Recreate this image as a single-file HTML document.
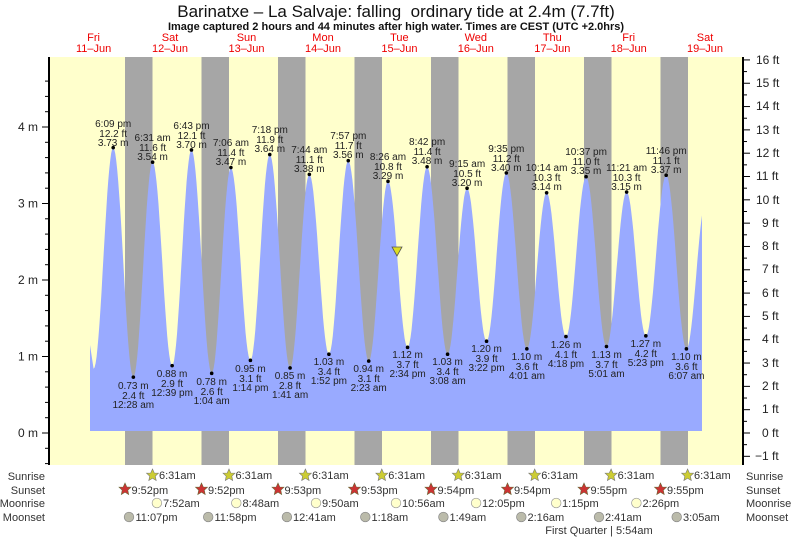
<!DOCTYPE html>
<html><head><meta charset="utf-8"><style>
html,body{margin:0;padding:0;background:#fff;}
svg{display:block;font-family:"Liberation Sans",sans-serif;}
.lb{font-size:10px;fill:#222;text-anchor:middle;}
.ax{font-size:12px;fill:#222;}
.rw{font-size:11px;fill:#333;}
.dy{font-size:11px;fill:#e00;text-anchor:middle;}
</style></head><body>
<svg id="s" width="793" height="539" viewBox="0 0 793 539" xmlns="http://www.w3.org/2000/svg">
<rect x="49" y="57" width="695" height="408" fill="#ffffcc"/>
<g fill="#a6a6a6">
<rect x="125" y="57" width="27.5" height="408"/><rect x="201.5" y="57" width="27.5" height="408"/>
<rect x="278" y="57" width="27.5" height="408"/><rect x="354.5" y="57" width="27.5" height="408"/>
<rect x="431" y="57" width="27.5" height="408"/><rect x="507.5" y="57" width="27.5" height="408"/>
<rect x="584" y="57" width="27.5" height="408"/><rect x="660.5" y="57" width="27.5" height="408"/>
</g>
<path id="tide" fill="#99aaff" d=""/>
<g id="dots" fill="#000"></g>
<polygon points="392,247 402,247 397,256" fill="#dddd22" stroke="#555" stroke-width="0.8"/>
<text x="396" y="17" style="font-size:17px;fill:#111;text-anchor:middle">Barinatxe – La Salvaje: falling&#160; ordinary tide at 2.4m (7.7ft)</text>
<text x="396" y="30" style="font-size:11px;font-weight:bold;fill:#111;text-anchor:middle">Image captured 2 hours and 44 minutes after high water. Times are CEST (UTC +2.0hrs)</text>
<g class="dy">
<text x="93.6" y="41">Fri</text><text x="93.6" y="52">11–Jun</text>
<text x="170" y="41">Sat</text><text x="170" y="52">12–Jun</text>
<text x="246.5" y="41">Sun</text><text x="246.5" y="52">13–Jun</text>
<text x="323" y="41">Mon</text><text x="323" y="52">14–Jun</text>
<text x="399.4" y="41">Tue</text><text x="399.4" y="52">15–Jun</text>
<text x="475.8" y="41">Wed</text><text x="475.8" y="52">16–Jun</text>
<text x="552.3" y="41">Thu</text><text x="552.3" y="52">17–Jun</text>
<text x="628.7" y="41">Fri</text><text x="628.7" y="52">18–Jun</text>
<text x="705" y="41">Sat</text><text x="705" y="52">19–Jun</text>
</g>
<line x1="49" y1="57" x2="49" y2="465" stroke="#000" stroke-width="2"/>
<line x1="743" y1="57" x2="743" y2="465" stroke="#000" stroke-width="2"/>
<g id="ticks" stroke="#000" stroke-width="1"></g>
<g class="ax" text-anchor="end">
<text x="38" y="131">4 m</text><text x="38" y="207.5">3 m</text><text x="38" y="284">2 m</text><text x="38" y="360.5">1 m</text><text x="38" y="437">0 m</text>
</g>
<g class="lb">
<text x="113.2" y="127">6:09 pm</text><text x="113.2" y="137">12.2 ft</text><text x="113.2" y="146">3.73 m</text>
<text x="152.6" y="141">6:31 am</text><text x="152.6" y="151">11.6 ft</text><text x="152.6" y="160">3.54 m</text>
<text x="191.5" y="129">6:43 pm</text><text x="191.5" y="139">12.1 ft</text><text x="191.5" y="148">3.70 m</text>
<text x="230.9" y="146">7:06 am</text><text x="230.9" y="156">11.4 ft</text><text x="230.9" y="165">3.47 m</text>
<text x="269.8" y="133">7:18 pm</text><text x="269.8" y="143">11.9 ft</text><text x="269.8" y="152">3.64 m</text>
<text x="309.3" y="153">7:44 am</text><text x="309.3" y="163">11.1 ft</text><text x="309.3" y="172">3.38 m</text>
<text x="348.3" y="139">7:57 pm</text><text x="348.3" y="149">11.7 ft</text><text x="348.3" y="158">3.56 m</text>
<text x="388" y="160">8:26 am</text><text x="388" y="170">10.8 ft</text><text x="388" y="179">3.29 m</text>
<text x="427.1" y="145">8:42 pm</text><text x="427.1" y="155">11.4 ft</text><text x="427.1" y="164">3.48 m</text>
<text x="467.1" y="167">9:15 am</text><text x="467.1" y="177">10.5 ft</text><text x="467.1" y="186">3.20 m</text>
<text x="506.3" y="152">9:35 pm</text><text x="506.3" y="162">11.2 ft</text><text x="506.3" y="171">3.40 m</text>
<text x="546.6" y="171">10:14 am</text><text x="546.6" y="181">10.3 ft</text><text x="546.6" y="190">3.14 m</text>
<text x="586.1" y="155">10:37 pm</text><text x="586.1" y="165">11.0 ft</text><text x="586.1" y="174">3.35 m</text>
<text x="626.6" y="171">11:21 am</text><text x="626.6" y="181">10.3 ft</text><text x="626.6" y="190">3.15 m</text>
<text x="666.2" y="154">11:46 pm</text><text x="666.2" y="164">11.1 ft</text><text x="666.2" y="173">3.37 m</text>

<text x="133.3" y="389">0.73 m</text><text x="133.3" y="399">2.4 ft</text><text x="133.3" y="408">12:28 am</text>
<text x="172.1" y="377">0.88 m</text><text x="172.1" y="387">2.9 ft</text><text x="172.1" y="396">12:39 pm</text>
<text x="211.7" y="385">0.78 m</text><text x="211.7" y="395">2.6 ft</text><text x="211.7" y="404">1:04 am</text>
<text x="250.4" y="372">0.95 m</text><text x="250.4" y="382">3.1 ft</text><text x="250.4" y="391">1:14 pm</text>
<text x="290.1" y="379">0.85 m</text><text x="290.1" y="389">2.8 ft</text><text x="290.1" y="398">1:41 am</text>
<text x="328.9" y="365">1.03 m</text><text x="328.9" y="375">3.4 ft</text><text x="328.9" y="384">1:52 pm</text>
<text x="368.7" y="372">0.94 m</text><text x="368.7" y="382">3.1 ft</text><text x="368.7" y="391">2:23 am</text>
<text x="407.6" y="358">1.12 m</text><text x="407.6" y="368">3.7 ft</text><text x="407.6" y="377">2:34 pm</text>
<text x="447.6" y="365">1.03 m</text><text x="447.6" y="375">3.4 ft</text><text x="447.6" y="384">3:08 am</text>
<text x="486.6" y="352">1.20 m</text><text x="486.6" y="362">3.9 ft</text><text x="486.6" y="371">3:22 pm</text>
<text x="526.9" y="360">1.10 m</text><text x="526.9" y="370">3.6 ft</text><text x="526.9" y="379">4:01 am</text>
<text x="566" y="348">1.26 m</text><text x="566" y="358">4.1 ft</text><text x="566" y="367">4:18 pm</text>
<text x="606.5" y="358">1.13 m</text><text x="606.5" y="368">3.7 ft</text><text x="606.5" y="377">5:01 am</text>
<text x="645.8" y="347">1.27 m</text><text x="645.8" y="357">4.2 ft</text><text x="645.8" y="366">5:23 pm</text>
<text x="686.4" y="360">1.10 m</text><text x="686.4" y="370">3.6 ft</text><text x="686.4" y="379">6:07 am</text>
</g>
<g class="rw" text-anchor="end">
<text x="45" y="480">Sunrise</text><text x="45" y="494">Sunset</text><text x="45" y="507">Moonrise</text><text x="45" y="521">Moonset</text>
</g>
<g class="rw">
<text x="746" y="480">Sunrise</text><text x="746" y="494">Sunset</text><text x="746" y="507">Moonrise</text><text x="746" y="521">Moonset</text>
</g>
<text x="599" y="534" style="font-size:11px;fill:#333;text-anchor:middle">First Quarter | 5:54am</text>
<g style="font-size:12px;fill:#222">
<text x="756" y="64">16 ft</text><text x="756" y="87">15 ft</text><text x="756" y="110">14 ft</text><text x="756" y="134">13 ft</text><text x="756" y="157">12 ft</text><text x="756" y="180">11 ft</text><text x="756" y="204">10 ft</text><text x="762" y="227">9 ft</text><text x="762" y="250">8 ft</text><text x="762" y="273">7 ft</text><text x="762" y="297">6 ft</text><text x="762" y="320">5 ft</text><text x="762" y="343">4 ft</text><text x="762" y="367">3 ft</text><text x="762" y="390">2 ft</text><text x="762" y="413">1 ft</text><text x="762" y="437">0 ft</text><text x="755" y="460">−1 ft</text>
</g>
<g style="font-size:11px;fill:#333">
<g fill="#cccc33" stroke="#777" stroke-width="0.6">
<polygon transform="translate(152.5,475)" points="0,-6 1.8,-2 6,-1.8 2.8,1.2 3.7,5.5 0,3.3 -3.7,5.5 -2.8,1.2 -6,-1.8 -1.8,-2"/>
<polygon transform="translate(229,475)" points="0,-6 1.8,-2 6,-1.8 2.8,1.2 3.7,5.5 0,3.3 -3.7,5.5 -2.8,1.2 -6,-1.8 -1.8,-2"/>
<polygon transform="translate(305.4,475)" points="0,-6 1.8,-2 6,-1.8 2.8,1.2 3.7,5.5 0,3.3 -3.7,5.5 -2.8,1.2 -6,-1.8 -1.8,-2"/>
<polygon transform="translate(381.8,475)" points="0,-6 1.8,-2 6,-1.8 2.8,1.2 3.7,5.5 0,3.3 -3.7,5.5 -2.8,1.2 -6,-1.8 -1.8,-2"/>
<polygon transform="translate(458.3,475)" points="0,-6 1.8,-2 6,-1.8 2.8,1.2 3.7,5.5 0,3.3 -3.7,5.5 -2.8,1.2 -6,-1.8 -1.8,-2"/>
<polygon transform="translate(534.7,475)" points="0,-6 1.8,-2 6,-1.8 2.8,1.2 3.7,5.5 0,3.3 -3.7,5.5 -2.8,1.2 -6,-1.8 -1.8,-2"/>
<polygon transform="translate(611.1,475)" points="0,-6 1.8,-2 6,-1.8 2.8,1.2 3.7,5.5 0,3.3 -3.7,5.5 -2.8,1.2 -6,-1.8 -1.8,-2"/>
<polygon transform="translate(687.6,475)" points="0,-6 1.8,-2 6,-1.8 2.8,1.2 3.7,5.5 0,3.3 -3.7,5.5 -2.8,1.2 -6,-1.8 -1.8,-2"/>
</g>
<text x="159" y="479">6:31am</text><text x="235.5" y="479">6:31am</text><text x="312" y="479">6:31am</text><text x="388.3" y="479">6:31am</text><text x="464.8" y="479">6:31am</text><text x="541.2" y="479">6:31am</text><text x="617.6" y="479">6:31am</text><text x="694" y="479">6:31am</text>
<g fill="#cc3333" stroke="#663" stroke-width="0.6">
<polygon transform="translate(125,489)" points="0,-6 1.8,-2 6,-1.8 2.8,1.2 3.7,5.5 0,3.3 -3.7,5.5 -2.8,1.2 -6,-1.8 -1.8,-2"/>
<polygon transform="translate(201.5,489)" points="0,-6 1.8,-2 6,-1.8 2.8,1.2 3.7,5.5 0,3.3 -3.7,5.5 -2.8,1.2 -6,-1.8 -1.8,-2"/>
<polygon transform="translate(278,489)" points="0,-6 1.8,-2 6,-1.8 2.8,1.2 3.7,5.5 0,3.3 -3.7,5.5 -2.8,1.2 -6,-1.8 -1.8,-2"/>
<polygon transform="translate(354.5,489)" points="0,-6 1.8,-2 6,-1.8 2.8,1.2 3.7,5.5 0,3.3 -3.7,5.5 -2.8,1.2 -6,-1.8 -1.8,-2"/>
<polygon transform="translate(431,489)" points="0,-6 1.8,-2 6,-1.8 2.8,1.2 3.7,5.5 0,3.3 -3.7,5.5 -2.8,1.2 -6,-1.8 -1.8,-2"/>
<polygon transform="translate(507.5,489)" points="0,-6 1.8,-2 6,-1.8 2.8,1.2 3.7,5.5 0,3.3 -3.7,5.5 -2.8,1.2 -6,-1.8 -1.8,-2"/>
<polygon transform="translate(584,489)" points="0,-6 1.8,-2 6,-1.8 2.8,1.2 3.7,5.5 0,3.3 -3.7,5.5 -2.8,1.2 -6,-1.8 -1.8,-2"/>
<polygon transform="translate(660.5,489)" points="0,-6 1.8,-2 6,-1.8 2.8,1.2 3.7,5.5 0,3.3 -3.7,5.5 -2.8,1.2 -6,-1.8 -1.8,-2"/>
</g>
<text x="131.5" y="494">9:52pm</text><text x="208" y="494">9:52pm</text><text x="284.5" y="494">9:53pm</text><text x="361" y="494">9:53pm</text><text x="437.5" y="494">9:54pm</text><text x="514" y="494">9:54pm</text><text x="590.5" y="494">9:55pm</text><text x="667" y="494">9:55pm</text>
<g fill="#ffffcc" stroke="#999" stroke-width="0.7">
<circle cx="156.9" cy="503" r="4.8"/><circle cx="236.3" cy="503" r="4.8"/><circle cx="316" cy="503" r="4.8"/><circle cx="396" cy="503" r="4.8"/><circle cx="476.1" cy="503" r="4.8"/><circle cx="556.2" cy="503" r="4.8"/><circle cx="636.4" cy="503" r="4.8"/>
</g>
<text x="163" y="507">7:52am</text><text x="242.5" y="507">8:48am</text><text x="322" y="507">9:50am</text><text x="402" y="507">10:56am</text><text x="482" y="507">12:05pm</text><text x="562" y="507">1:15pm</text><text x="642.5" y="507">2:26pm</text>
<g fill="#bbbbaa" stroke="#888" stroke-width="0.7">
<circle cx="129" cy="517" r="4.8"/><circle cx="208.2" cy="517" r="4.8"/><circle cx="286.9" cy="517" r="4.8"/><circle cx="365.3" cy="517" r="4.8"/><circle cx="443.4" cy="517" r="4.8"/><circle cx="521.3" cy="517" r="4.8"/><circle cx="599" cy="517" r="4.8"/><circle cx="676.7" cy="517" r="4.8"/>
</g>
<text x="135.5" y="521">11:07pm</text><text x="214.5" y="521">11:58pm</text><text x="293" y="521">12:41am</text><text x="371.5" y="521">1:18am</text><text x="449.5" y="521">1:49am</text><text x="527.5" y="521">2:16am</text><text x="605" y="521">2:41am</text><text x="683" y="521">3:05am</text>
</g>
</svg>
<script>
var X=function(t){return 55.4+3.185*t},Y=function(h){return 433-76.5*h};
var E=[[12.0,0.84],[18.15,3.73],[24.47,0.73],[30.52,3.54],[36.65,0.88],[42.72,3.70],[49.07,0.78],[55.1,3.47],[61.23,0.95],[67.3,3.64],[73.68,0.85],[79.73,3.38],[85.87,1.03],[91.95,3.56],[98.38,0.94],[104.43,3.29],[110.57,1.12],[116.7,3.48],[123.13,1.03],[129.25,3.20],[135.37,1.20],[141.58,3.40],[148.02,1.10],[154.23,3.14],[160.3,1.26],[166.62,3.35],[173.02,1.13],[179.35,3.15],[185.38,1.27],[191.77,3.37],[198.12,1.10],[204.3,3.05]];
var d="M90,431 L90,345 L"+X(12).toFixed(1)+","+Y(0.84).toFixed(1);
for(var i=0;i<E.length-1;i++){var a=E[i],b=E[i+1];for(var k=1;k<=20;k++){var t=a[0]+(b[0]-a[0])*k/20;if(X(t)>702)break;var h=a[1]+(b[1]-a[1])*(1-Math.cos(Math.PI*k/20))/2;d+=" L"+X(t).toFixed(1)+","+Y(h).toFixed(1);}}
var ns="http://www.w3.org/2000/svg";
var te=203;var a=E[30],b=E[31];var hh=a[1]+(b[1]-a[1])*(1-Math.cos(Math.PI*(te-a[0])/(b[0]-a[0])))/2;
d+=" L702,"+Y(hh).toFixed(1)+" L702,431 Z";
document.getElementById("tide").setAttribute("d",d);
var dots=document.getElementById("dots");
for(var i=1;i<31;i++){var c=document.createElementNS(ns,"circle");c.setAttribute("cx",X(E[i][0]));c.setAttribute("cy",Y(E[i][1]));c.setAttribute("r",1.8);dots.appendChild(c);}
var tk=document.getElementById("ticks"),s="";
for(var m=-0.4;m<=4.8;m+=0.2){var y=Y(m);if(y<58||y>465)continue;var maj=Math.abs(m-Math.round(m))<0.01;s+='<line x1="'+(maj?42:45)+'" y1="'+y+'" x2="49" y2="'+y+'"/>';}
for(var f=-1.5;f<=16.5;f+=0.5){var y=433-f*0.3048*76.5;if(y<58||y>465)continue;var maj=Math.abs(f-Math.round(f))<0.01;s+='<line x1="743" y1="'+y+'" x2="'+(maj?750:747)+'" y2="'+y+'"/>';}
tk.innerHTML=s;
</script>
</body></html>
